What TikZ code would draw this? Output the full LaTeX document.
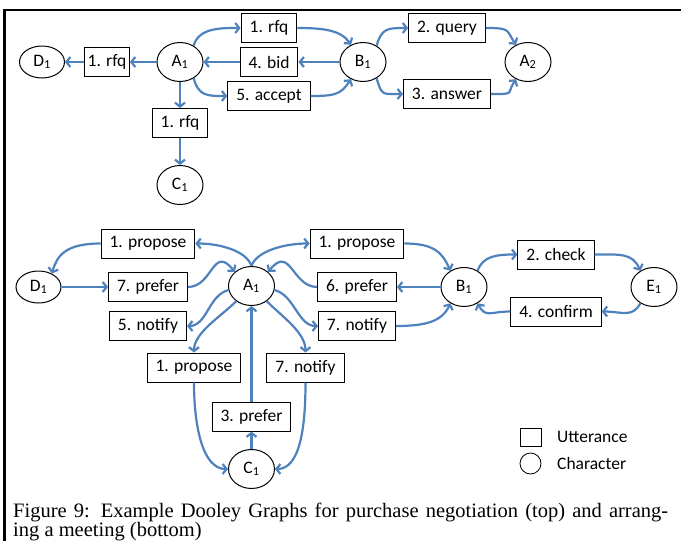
\documentclass[tikz,border=0pt]{standalone}
\usepackage{fontspec}
\setmainfont{Carlito}
\newfontfamily\capfont{Liberation Serif}
\usetikzlibrary{arrows.meta,shapes.geometric}

\definecolor{linkblue}{RGB}{79,129,189}

\tikzset{
    utter/.style={draw, line width=1pt, fill=white, inner xsep=8.5pt, inner ysep=0pt,
        minimum height=29pt, font=\fontsize{17.5}{20}\selectfont},
    char/.style={ellipse, draw, line width=1pt, fill=white, inner sep=0pt,
        minimum width=46pt, minimum height=39pt, font=\fontsize{17.5}{20}\selectfont},
    smallchar/.style={char, minimum width=45pt, minimum height=32pt},
    flow/.style={linkblue, line width=2.2pt, -{Straight Barb[length=4pt,width=10pt]}},
}

\begin{document}
\begin{tikzpicture}[x=1pt, y=-1pt]
            \useasboundingbox (0,0) rectangle (681,541);

            % frame
            \draw[line width=2.6pt] (4.5,541) -- (4.5,10) -- (681,10);

            % purchase negotiation
            \def\ya{28}
            \def\yb{62}
            \def\yc{96}

            \node[smallchar] (D1) at (42,\yb) {D\textsubscript{1}};
            \node[utter, inner xsep=3pt] (rfqD) at (107,\yb) {1. rfq};
            \node[char] (A1) at (180,\yb) {A\textsubscript{1}};
            \node[utter] (rfqB) at (269,\ya) {1. rfq};
            \node[utter] (bid) at (269,\yb) {4. bid};
            \node[utter] (accept) at (269,\yc) {5. accept};
            \node[utter] (rfqC) at (180,123) {1. rfq};
            \node[char] (C1) at (180,185) {C\textsubscript{1}};
            \node[char] (B1) at (363,\yb) {B\textsubscript{1}};
            \node[utter] (query) at (447,\ya) {2. query};
            \node[utter] (answer) at (447,94) {3. answer};
            \node[char] (A2) at (528,\yb) {A\textsubscript{2}};

            \draw[flow] (A1) -- (rfqD);
            \draw[flow] (rfqD) -- (D1);
            \draw[flow] (A1) -- (rfqC);
            \draw[flow] (rfqC) -- (C1);
            \draw[flow] (A1.50) .. controls +(5,-18) and +(-20,0) .. (rfqB.west);
            \draw[flow] (rfqB.east) .. controls +(25,0) and +(-10,-15) .. (B1.125);
            \draw[flow] (B1) -- (bid);
            \draw[flow] (bid) -- (A1);
            \draw[flow] (A1.-50) .. controls +(5,18) and +(-20,0) .. (accept.west);
            \draw[flow] (accept.east) .. controls +(25,0) and +(-10,15) .. (B1.-125);
            \draw[flow] (B1.50) .. controls +(5,-18) and +(-20,0) .. (query.west);
            \draw[flow] (query.east) .. controls +(25,0) and +(-10,-15) .. (A2.125);
            \draw[flow] (B1.-50) .. controls +(5,18) and +(-20,0) .. (answer.west);
            \draw[flow] (answer.east) .. controls +(25,0) and +(-10,15) .. (A2.-125);

            % arranging a meeting
            \def\yp{243.5}
            \def\yq{287}
            \def\yn{326}
            \def\xl{148}
            \def\xr{357}

            \node[smallchar] (D1b) at (38.5,\yq) {D\textsubscript{1}};
            \node[utter] (propL) at (\xl,\yp) {1. propose};
            \node[utter] (prefL) at (\xl,\yq) {7. prefer};
            \node[utter] (notifyL) at (\xl,\yn) {5. notify};
            \node[char] (A1b) at (251.5,286) {A\textsubscript{1}};
            \node[utter] (propR) at (\xr,\yp) {1. propose};
            \node[utter] (prefR) at (\xr,\yq) {6. prefer};
            \node[utter] (notifyR) at (\xr,\yn) {7. notify};
            \node[char] (B1b) at (464,\yq) {B\textsubscript{1}};
            \node[utter] (check) at (556,254.5) {2. check};
            \node[utter] (confirm) at (556,311.5) {4. confirm};
            \node[char] (E1) at (654,\yq) {E\textsubscript{1}};
            \node[utter] (propLow) at (194,367.5) {1. propose};
            \node[utter] (notifyLow) at (305.5,367.5) {7. notify};
            \node[utter] (prefC) at (251.5,416.5) {3. prefer};
            \node[char] (C1b) at (251.5,469) {C\textsubscript{1}};

            \draw[flow] (A1b.north) .. controls +(-5,-15) and +(25,0) .. (propL.east);
            \draw[flow] (propL.west) .. controls +(-35,0) and +(5,-18) .. (D1b.45);
            \draw[flow] (D1b) -- (prefL);
            \draw[flow] (prefL.east) .. controls +(25,0) and +(-22,-28) .. (A1b.140);
            \draw[flow] (A1b.190) .. controls +(-20,5) and +(20,0) .. (notifyL.east);
            \draw[flow] (A1b.225) .. controls +(-15,15) and +(0,-20) .. (propLow.north);
            \draw[flow] (A1b.north) .. controls +(5,-15) and +(-25,0) .. (propR.west);
            \draw[flow] (prefR.west) .. controls +(-25,0) and +(22,-28) .. (A1b.40);
            \draw[flow] (A1b.-10) .. controls +(20,5) and +(-20,0) .. (notifyR.west);
            \draw[flow] (A1b.-45) .. controls +(15,15) and +(0,-20) .. (notifyLow.north);
            \draw[flow] (prefC) -- (A1b);
            \draw[flow] (C1b) -- (prefC);
            \draw[flow] (propLow.south) .. controls +(0,45) and +(-25,0) .. (C1b.west);
            \draw[flow] (notifyLow.south) .. controls +(0,45) and +(25,0) .. (C1b.east);
            \draw[flow] (propR.east) .. controls +(30,0) and +(-8,-18) .. (B1b.130);
            \draw[flow] (B1b) -- (prefR);
            \draw[flow] (notifyR.east) .. controls +(30,0) and +(-8,18) .. (B1b.230);
            \draw[flow] (B1b.50) .. controls +(5,-15) and +(-20,0) .. (check.west);
            \draw[flow] (check.east) .. controls +(25,0) and +(-8,-18) .. (E1.130);
            \draw[flow] (E1.230) .. controls +(-8,15) and +(20,0) .. (confirm.east);
            \draw[flow] (confirm.west) .. controls +(-20,0) and +(8,15) .. (B1b.-50);

            % key
            \node[draw, line width=1pt, minimum width=21pt, minimum height=18pt] (keybox) at (530.5,437) {};
            \node[circle, draw, line width=0.8pt, minimum size=21pt, inner sep=0pt] (keycirc) at (530.5,463.5) {};
            \node[anchor=west, inner sep=0pt, font=\fontsize{17.5}{20}\selectfont] (keyu) at (557,437) {Utterance};
            \node[anchor=west, inner sep=0pt, font=\fontsize{17.5}{20}\selectfont] (keyc) at (557,463.5) {Character};

            % caption
            \node[anchor=base west, inner sep=0pt, text width=655pt, align=justify,
                font=\capfont\fontsize{20.5}{17.5}\selectfont] (caption) at (13,517)
                {Figure 9: Example Dooley Graphs for purchase negotiation (top) and arrang-\linebreak ing a meeting (bottom)};

        \end{tikzpicture}
\end{document}
